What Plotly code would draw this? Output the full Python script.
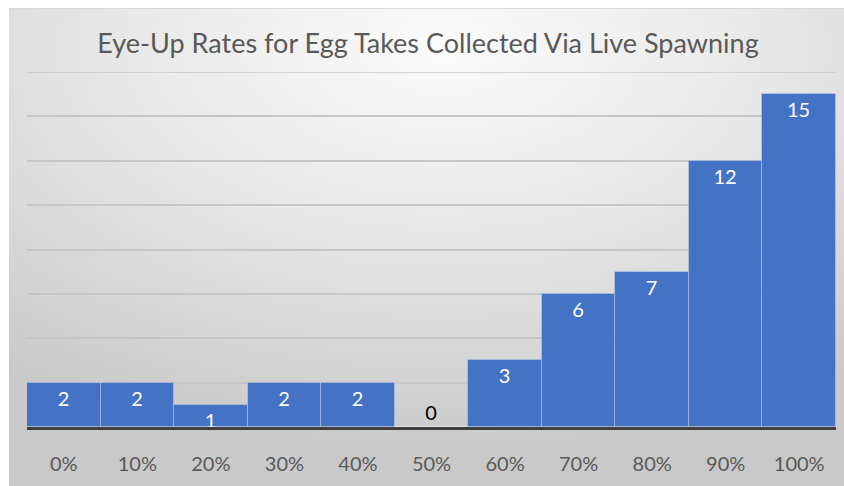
import base64
import plotly.graph_objects as go

categories = ["0%", "10%", "20%", "30%", "40%", "50%", "60%", "70%", "80%", "90%", "100%"]
counts = [2, 2, 1, 2, 2, 0, 3, 6, 7, 12, 15]
y_ticks = [0, 2, 4, 6, 8, 10, 12, 14, 16]
title_text = "Eye-Up Rates for Egg Takes Collected Via Live Spawning"

W, H = 844, 486
L, R, T, B = 27, 8, 72, 59
pw, ph = W - L - R, H - T - B

svg = (
    "<svg xmlns='http://www.w3.org/2000/svg' width='835' height='478' viewBox='0 0 835 478' preserveAspectRatio='none'>"
    "<defs><radialGradient id='g' cx='0.52' cy='0.08' r='0.85'>"
    "<stop offset='0' stop-color='#fbfbfb'/>"
    "<stop offset='0.45' stop-color='#e8e8e8'/>"
    "<stop offset='1' stop-color='#c9c9c9'/>"
    "</radialGradient></defs>"
    "<rect x='0' y='0' width='835' height='478' fill='url(#g)'/>"
    "<line x1='0' y1='0.5' x2='835' y2='0.5' stroke='#d9d9d9' stroke-width='1'/>"
    "</svg>"
)
src = "data:image/svg+xml;base64," + base64.b64encode(svg.encode()).decode()

text_pos = ["outside" if v == 0 else "inside" for v in counts]
text_col = ["#000000" if v == 0 else "#ffffff" for v in counts]

fig = go.Figure(
    go.Bar(
        x=categories,
        y=counts,
        text=[str(v) for v in counts],
        textposition=text_pos,
        insidetextanchor="end",
        textangle=0,
        textfont=dict(family="Lato", size=20, color=text_col),
        outsidetextfont=dict(family="Lato", size=20, color="#000000"),
        constraintext="none",
        cliponaxis=False,
        marker=dict(color="#4472C4", line=dict(color="rgba(255,255,255,0.25)", width=1)),
        hoverinfo="skip",
    )
)

fig.add_shape(
    type="line", xref="paper", yref="y", x0=0, x1=1, y0=y_ticks[-1], y1=y_ticks[-1],
    line=dict(color="#c6c6c6", width=1.5), layer="below",
)

fig.update_layout(
    width=W,
    height=H,
    margin=dict(l=L, r=R, t=T, b=B, pad=0),
    paper_bgcolor="white",
    plot_bgcolor="rgba(0,0,0,0)",
    bargap=0,
    showlegend=False,
    title=dict(
        text=title_text,
        x=(428) / W,
        xanchor="center",
        y=1 - 44 / H,
        yanchor="middle",
        font=dict(family="Lato", size=27, color="#595959"),
    ),
    images=[
        dict(
            source=src,
            xref="paper",
            yref="paper",
            x=(9 - L) / pw,
            y=(H - B - 8) / ph,
            sizex=(W - 9) / pw,
            sizey=(H - 8) / ph,
            sizing="stretch",
            xanchor="left",
            yanchor="top",
            layer="below",
        )
    ],
    xaxis=dict(
        showline=True,
        linecolor="#404040",
        linewidth=3,
        showgrid=False,
        ticks="",
        ticklabelstandoff=17,
        tickfont=dict(family="Lato", size=20, color="#595959"),
        fixedrange=True,
    ),
    yaxis=dict(
        range=[0, 16],
        tickvals=y_ticks,
        showticklabels=False,
        showgrid=True,
        gridcolor="#c6c6c6",
        gridwidth=1.5,
        zeroline=False,
        fixedrange=True,
    ),
)

fig.write_html("out.html")
